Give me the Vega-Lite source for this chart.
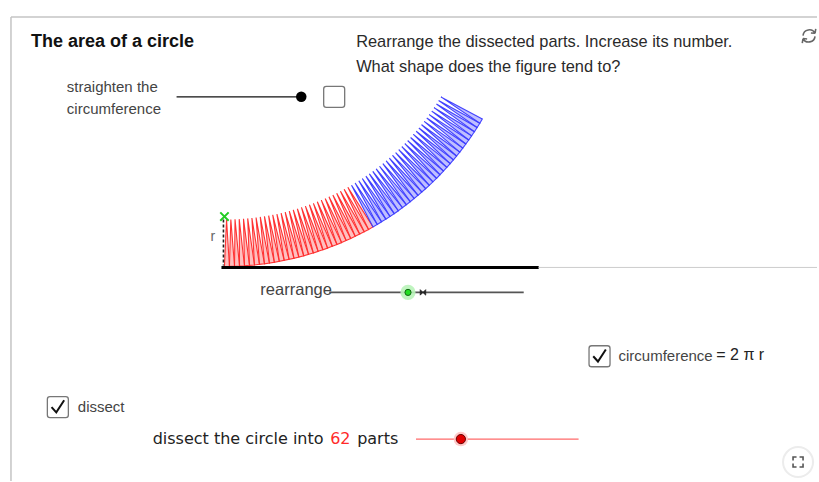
{
  "$schema": "https://vega.github.io/schema/vega-lite/v6.json",
  "width": 819,
  "height": 482,
  "autosize": {"type": "fit", "contains": "padding"},
  "padding": 0,
  "background": "white",
  "config": {"view": {"stroke": null}},
  "datasets": {
    "tri": [
      {"k":0,"o":0,"x":225.0,"y":267.0,"p":"red"},{"k":0,"o":1,"x":227.1,"y":220.0,"p":"red"},{"k":0,"o":2,"x":230.0,"y":266.9,"p":"red"},
      {"k":1,"o":0,"x":230.0,"y":266.9,"p":"red"},{"k":1,"o":1,"x":231.4,"y":219.9,"p":"red"},{"k":1,"o":2,"x":235.1,"y":266.8,"p":"red"},
      {"k":2,"o":0,"x":235.1,"y":266.8,"p":"red"},{"k":2,"o":1,"x":235.6,"y":219.8,"p":"red"},{"k":2,"o":2,"x":240.1,"y":266.6,"p":"red"},
      {"k":3,"o":0,"x":240.1,"y":266.6,"p":"red"},{"k":3,"o":1,"x":239.8,"y":219.6,"p":"red"},{"k":3,"o":2,"x":245.1,"y":266.3,"p":"red"},
      {"k":4,"o":0,"x":245.1,"y":266.3,"p":"red"},{"k":4,"o":1,"x":244.1,"y":219.3,"p":"red"},{"k":4,"o":2,"x":250.1,"y":265.9,"p":"red"},
      {"k":5,"o":0,"x":250.1,"y":265.9,"p":"red"},{"k":5,"o":1,"x":248.3,"y":218.9,"p":"red"},{"k":5,"o":2,"x":255.1,"y":265.5,"p":"red"},
      {"k":6,"o":0,"x":255.1,"y":265.5,"p":"red"},{"k":6,"o":1,"x":252.5,"y":218.5,"p":"red"},{"k":6,"o":2,"x":260.1,"y":264.9,"p":"red"},
      {"k":7,"o":0,"x":260.1,"y":264.9,"p":"red"},{"k":7,"o":1,"x":256.7,"y":218.0,"p":"red"},{"k":7,"o":2,"x":265.1,"y":264.3,"p":"red"},
      {"k":8,"o":0,"x":265.1,"y":264.3,"p":"red"},{"k":8,"o":1,"x":260.9,"y":217.4,"p":"red"},{"k":8,"o":2,"x":270.1,"y":263.6,"p":"red"},
      {"k":9,"o":0,"x":270.1,"y":263.6,"p":"red"},{"k":9,"o":1,"x":265.1,"y":216.8,"p":"red"},{"k":9,"o":2,"x":275.0,"y":262.8,"p":"red"},
      {"k":10,"o":0,"x":275.0,"y":262.8,"p":"red"},{"k":10,"o":1,"x":269.3,"y":216.1,"p":"red"},{"k":10,"o":2,"x":280.0,"y":261.9,"p":"red"},
      {"k":11,"o":0,"x":280.0,"y":261.9,"p":"red"},{"k":11,"o":1,"x":273.4,"y":215.3,"p":"red"},{"k":11,"o":2,"x":284.9,"y":260.9,"p":"red"},
      {"k":12,"o":0,"x":284.9,"y":260.9,"p":"red"},{"k":12,"o":1,"x":277.6,"y":214.5,"p":"red"},{"k":12,"o":2,"x":289.8,"y":259.9,"p":"red"},
      {"k":13,"o":0,"x":289.8,"y":259.9,"p":"red"},{"k":13,"o":1,"x":281.8,"y":213.6,"p":"red"},{"k":13,"o":2,"x":294.7,"y":258.8,"p":"red"},
      {"k":14,"o":0,"x":294.7,"y":258.8,"p":"red"},{"k":14,"o":1,"x":285.9,"y":212.6,"p":"red"},{"k":14,"o":2,"x":299.6,"y":257.6,"p":"red"},
      {"k":15,"o":0,"x":299.6,"y":257.6,"p":"red"},{"k":15,"o":1,"x":290.0,"y":211.5,"p":"red"},{"k":15,"o":2,"x":304.5,"y":256.3,"p":"red"},
      {"k":16,"o":0,"x":304.5,"y":256.3,"p":"red"},{"k":16,"o":1,"x":294.0,"y":210.4,"p":"red"},{"k":16,"o":2,"x":309.3,"y":254.9,"p":"red"},
      {"k":17,"o":0,"x":309.3,"y":254.9,"p":"red"},{"k":17,"o":1,"x":298.1,"y":209.2,"p":"red"},{"k":17,"o":2,"x":314.1,"y":253.5,"p":"red"},
      {"k":18,"o":0,"x":314.1,"y":253.5,"p":"red"},{"k":18,"o":1,"x":302.2,"y":207.9,"p":"red"},{"k":18,"o":2,"x":318.9,"y":251.9,"p":"red"},
      {"k":19,"o":0,"x":318.9,"y":251.9,"p":"red"},{"k":19,"o":1,"x":306.2,"y":206.6,"p":"red"},{"k":19,"o":2,"x":323.7,"y":250.3,"p":"red"},
      {"k":20,"o":0,"x":323.7,"y":250.3,"p":"red"},{"k":20,"o":1,"x":310.2,"y":205.2,"p":"red"},{"k":20,"o":2,"x":328.4,"y":248.6,"p":"red"},
      {"k":21,"o":0,"x":328.4,"y":248.6,"p":"red"},{"k":21,"o":1,"x":314.2,"y":203.8,"p":"red"},{"k":21,"o":2,"x":333.1,"y":246.8,"p":"red"},
      {"k":22,"o":0,"x":333.1,"y":246.8,"p":"red"},{"k":22,"o":1,"x":318.1,"y":202.2,"p":"red"},{"k":22,"o":2,"x":337.8,"y":245.0,"p":"red"},
      {"k":23,"o":0,"x":337.8,"y":245.0,"p":"red"},{"k":23,"o":1,"x":322.1,"y":200.6,"p":"red"},{"k":23,"o":2,"x":342.4,"y":243.1,"p":"red"},
      {"k":24,"o":0,"x":342.4,"y":243.1,"p":"red"},{"k":24,"o":1,"x":326.0,"y":199.0,"p":"red"},{"k":24,"o":2,"x":347.0,"y":241.1,"p":"red"},
      {"k":25,"o":0,"x":347.0,"y":241.1,"p":"red"},{"k":25,"o":1,"x":329.8,"y":197.2,"p":"red"},{"k":25,"o":2,"x":351.6,"y":239.0,"p":"red"},
      {"k":26,"o":0,"x":351.6,"y":239.0,"p":"red"},{"k":26,"o":1,"x":333.7,"y":195.5,"p":"red"},{"k":26,"o":2,"x":356.1,"y":236.8,"p":"red"},
      {"k":27,"o":0,"x":356.1,"y":236.8,"p":"red"},{"k":27,"o":1,"x":337.5,"y":193.6,"p":"red"},{"k":27,"o":2,"x":360.6,"y":234.6,"p":"red"},
      {"k":28,"o":0,"x":360.6,"y":234.6,"p":"red"},{"k":28,"o":1,"x":341.3,"y":191.7,"p":"red"},{"k":28,"o":2,"x":365.1,"y":232.3,"p":"red"},
      {"k":29,"o":0,"x":365.1,"y":232.3,"p":"red"},{"k":29,"o":1,"x":345.0,"y":189.7,"p":"red"},{"k":29,"o":2,"x":369.5,"y":229.9,"p":"red"},
      {"k":30,"o":0,"x":369.5,"y":229.9,"p":"red"},{"k":30,"o":1,"x":348.7,"y":187.7,"p":"red"},{"k":30,"o":2,"x":373.9,"y":227.4,"p":"red"},
      {"k":31,"o":0,"x":373.9,"y":227.4,"p":"blue"},{"k":31,"o":1,"x":352.4,"y":185.6,"p":"blue"},{"k":31,"o":2,"x":378.2,"y":224.9,"p":"blue"},
      {"k":32,"o":0,"x":378.2,"y":224.9,"p":"blue"},{"k":32,"o":1,"x":356.0,"y":183.4,"p":"blue"},{"k":32,"o":2,"x":382.5,"y":222.3,"p":"blue"},
      {"k":33,"o":0,"x":382.5,"y":222.3,"p":"blue"},{"k":33,"o":1,"x":359.7,"y":181.2,"p":"blue"},{"k":33,"o":2,"x":386.8,"y":219.6,"p":"blue"},
      {"k":34,"o":0,"x":386.8,"y":219.6,"p":"blue"},{"k":34,"o":1,"x":363.2,"y":178.9,"p":"blue"},{"k":34,"o":2,"x":391.0,"y":216.9,"p":"blue"},
      {"k":35,"o":0,"x":391.0,"y":216.9,"p":"blue"},{"k":35,"o":1,"x":366.8,"y":176.5,"p":"blue"},{"k":35,"o":2,"x":395.2,"y":214.1,"p":"blue"},
      {"k":36,"o":0,"x":395.2,"y":214.1,"p":"blue"},{"k":36,"o":1,"x":370.3,"y":174.2,"p":"blue"},{"k":36,"o":2,"x":399.3,"y":211.2,"p":"blue"},
      {"k":37,"o":0,"x":399.3,"y":211.2,"p":"blue"},{"k":37,"o":1,"x":373.7,"y":171.7,"p":"blue"},{"k":37,"o":2,"x":403.4,"y":208.2,"p":"blue"},
      {"k":38,"o":0,"x":403.4,"y":208.2,"p":"blue"},{"k":38,"o":1,"x":377.1,"y":169.2,"p":"blue"},{"k":38,"o":2,"x":407.4,"y":205.2,"p":"blue"},
      {"k":39,"o":0,"x":407.4,"y":205.2,"p":"blue"},{"k":39,"o":1,"x":380.5,"y":166.6,"p":"blue"},{"k":39,"o":2,"x":411.3,"y":202.1,"p":"blue"},
      {"k":40,"o":0,"x":411.3,"y":202.1,"p":"blue"},{"k":40,"o":1,"x":383.8,"y":163.9,"p":"blue"},{"k":40,"o":2,"x":415.2,"y":198.9,"p":"blue"},
      {"k":41,"o":0,"x":415.2,"y":198.9,"p":"blue"},{"k":41,"o":1,"x":387.1,"y":161.2,"p":"blue"},{"k":41,"o":2,"x":419.1,"y":195.7,"p":"blue"},
      {"k":42,"o":0,"x":419.1,"y":195.7,"p":"blue"},{"k":42,"o":1,"x":390.3,"y":158.5,"p":"blue"},{"k":42,"o":2,"x":422.9,"y":192.4,"p":"blue"},
      {"k":43,"o":0,"x":422.9,"y":192.4,"p":"blue"},{"k":43,"o":1,"x":393.5,"y":155.7,"p":"blue"},{"k":43,"o":2,"x":426.7,"y":189.1,"p":"blue"},
      {"k":44,"o":0,"x":426.7,"y":189.1,"p":"blue"},{"k":44,"o":1,"x":396.6,"y":152.9,"p":"blue"},{"k":44,"o":2,"x":430.4,"y":185.7,"p":"blue"},
      {"k":45,"o":0,"x":430.4,"y":185.7,"p":"blue"},{"k":45,"o":1,"x":399.7,"y":150.0,"p":"blue"},{"k":45,"o":2,"x":434.0,"y":182.2,"p":"blue"},
      {"k":46,"o":0,"x":434.0,"y":182.2,"p":"blue"},{"k":46,"o":1,"x":402.8,"y":147.0,"p":"blue"},{"k":46,"o":2,"x":437.6,"y":178.7,"p":"blue"},
      {"k":47,"o":0,"x":437.6,"y":178.7,"p":"blue"},{"k":47,"o":1,"x":405.8,"y":144.0,"p":"blue"},{"k":47,"o":2,"x":441.1,"y":175.1,"p":"blue"},
      {"k":48,"o":0,"x":441.1,"y":175.1,"p":"blue"},{"k":48,"o":1,"x":408.7,"y":141.0,"p":"blue"},{"k":48,"o":2,"x":444.6,"y":171.4,"p":"blue"},
      {"k":49,"o":0,"x":444.6,"y":171.4,"p":"blue"},{"k":49,"o":1,"x":411.6,"y":137.8,"p":"blue"},{"k":49,"o":2,"x":447.9,"y":167.7,"p":"blue"},
      {"k":50,"o":0,"x":447.9,"y":167.7,"p":"blue"},{"k":50,"o":1,"x":414.4,"y":134.7,"p":"blue"},{"k":50,"o":2,"x":451.3,"y":164.0,"p":"blue"},
      {"k":51,"o":0,"x":451.3,"y":164.0,"p":"blue"},{"k":51,"o":1,"x":417.2,"y":131.5,"p":"blue"},{"k":51,"o":2,"x":454.5,"y":160.2,"p":"blue"},
      {"k":52,"o":0,"x":454.5,"y":160.2,"p":"blue"},{"k":52,"o":1,"x":419.9,"y":128.3,"p":"blue"},{"k":52,"o":2,"x":457.7,"y":156.3,"p":"blue"},
      {"k":53,"o":0,"x":457.7,"y":156.3,"p":"blue"},{"k":53,"o":1,"x":422.6,"y":125.0,"p":"blue"},{"k":53,"o":2,"x":460.9,"y":152.4,"p":"blue"},
      {"k":54,"o":0,"x":460.9,"y":152.4,"p":"blue"},{"k":54,"o":1,"x":425.2,"y":121.6,"p":"blue"},{"k":54,"o":2,"x":463.9,"y":148.4,"p":"blue"},
      {"k":55,"o":0,"x":463.9,"y":148.4,"p":"blue"},{"k":55,"o":1,"x":427.8,"y":118.3,"p":"blue"},{"k":55,"o":2,"x":467.0,"y":144.3,"p":"blue"},
      {"k":56,"o":0,"x":467.0,"y":144.3,"p":"blue"},{"k":56,"o":1,"x":430.3,"y":114.9,"p":"blue"},{"k":56,"o":2,"x":469.9,"y":140.3,"p":"blue"},
      {"k":57,"o":0,"x":469.9,"y":140.3,"p":"blue"},{"k":57,"o":1,"x":432.8,"y":111.4,"p":"blue"},{"k":57,"o":2,"x":472.8,"y":136.1,"p":"blue"},
      {"k":58,"o":0,"x":472.8,"y":136.1,"p":"blue"},{"k":58,"o":1,"x":435.1,"y":107.9,"p":"blue"},{"k":58,"o":2,"x":475.6,"y":132.0,"p":"blue"},
      {"k":59,"o":0,"x":475.6,"y":132.0,"p":"blue"},{"k":59,"o":1,"x":437.5,"y":104.3,"p":"blue"},{"k":59,"o":2,"x":478.3,"y":127.7,"p":"blue"},
      {"k":60,"o":0,"x":478.3,"y":127.7,"p":"blue"},{"k":60,"o":1,"x":439.7,"y":100.8,"p":"blue"},{"k":60,"o":2,"x":481.0,"y":123.5,"p":"blue"},
      {"k":61,"o":0,"x":481.0,"y":123.5,"p":"blue"},{"k":61,"o":1,"x":442.0,"y":97.1,"p":"blue"},{"k":61,"o":2,"x":483.5,"y":119.2,"p":"blue"}
    ]
  },
  "encoding": {
    "x": {"field": "x", "type": "quantitative", "scale": {"domain": [0, 819], "nice": false, "zero": false}, "axis": null},
    "y": {"field": "y", "type": "quantitative", "scale": {"domain": [0, 482], "nice": false, "zero": false, "reverse": true}, "axis": null}
  },
  "layer": [
    {
      "data": {"values": [{"x": 11, "y": 17, "x2": 819, "y2": 17}, {"x": 11, "y": 17, "x2": 11, "y2": 482}]},
      "mark": {"type": "rule", "stroke": "#c4c4c4", "strokeWidth": 1.5},
      "encoding": {"x2": {"field": "x2"}, "y2": {"field": "y2"}}
    },
    {
      "data": {"name": "tri"},
      "mark": {"type": "line", "interpolate": "linear-closed", "strokeWidth": 1.1, "fillOpacity": 0.45, "strokeOpacity": 0.95},
      "encoding": {
        "detail": {"field": "k", "type": "nominal"},
        "order": {"field": "o", "type": "quantitative"},
        "stroke": {"field": "p", "type": "nominal", "scale": {"domain": ["red", "blue"], "range": ["#ff2a2a", "#3a3aff"]}, "legend": null},
        "fill": {"field": "p", "type": "nominal", "scale": {"domain": ["red", "blue"], "range": ["#ff7070", "#7070ff"]}, "legend": null}
      }
    },
    {
      "data": {"values": [{"x": 222, "y": 268, "x2": 540, "y2": 268}]},
      "mark": {"type": "rule", "stroke": "#000000", "strokeWidth": 3},
      "encoding": {"x2": {"field": "x2"}, "y2": {"field": "y2"}}
    },
    {
      "data": {"values": [{"x": 540, "y": 268, "x2": 819, "y2": 268}]},
      "mark": {"type": "rule", "stroke": "#cccccc", "strokeWidth": 1},
      "encoding": {"x2": {"field": "x2"}, "y2": {"field": "y2"}}
    },
    {
      "data": {"values": [{"x": 224, "y": 220, "x2": 224, "y2": 266}]},
      "mark": {"type": "rule", "stroke": "#222222", "strokeWidth": 1.6, "strokeDash": [3, 2]},
      "encoding": {"x2": {"field": "x2"}, "y2": {"field": "y2"}}
    },
    {
      "data": {"values": [{"x": 177, "y": 97, "x2": 302, "y2": 97}]},
      "mark": {"type": "rule", "stroke": "#111111", "strokeWidth": 1.2},
      "encoding": {"x2": {"field": "x2"}, "y2": {"field": "y2"}}
    },
    {
      "data": {"values": [{"x": 330, "y": 293, "x2": 525, "y2": 293}]},
      "mark": {"type": "rule", "stroke": "#555555", "strokeWidth": 1.6},
      "encoding": {"x2": {"field": "x2"}, "y2": {"field": "y2"}}
    },
    {
      "data": {"values": [{"x": 417, "y": 440, "x2": 580, "y2": 440}]},
      "mark": {"type": "rule", "stroke": "#ff6a6a", "strokeWidth": 1.3},
      "encoding": {"x2": {"field": "x2"}, "y2": {"field": "y2"}}
    },
    {
      "data": {"values": [{"x": 302, "y": 97}]},
      "mark": {"type": "point", "shape": "circle", "filled": true, "color": "#000000", "size": 110, "opacity": 1}
    },
    {
      "data": {"values": [{"x": 409, "y": 293}]},
      "mark": {"type": "point", "shape": "circle", "filled": true, "color": "#b9f3b9", "size": 230, "opacity": 0.9}
    },
    {
      "data": {"values": [{"x": 409, "y": 293}]},
      "mark": {"type": "point", "shape": "circle", "filled": true, "fill": "#22dd22", "stroke": "#116611", "strokeWidth": 1, "size": 38, "opacity": 1}
    },
    {
      "data": {"values": [{"x": 424, "y": 293}]},
      "mark": {"type": "point", "shape": "M-1,-1L0,0L-1,1Z M1,-1L0,0L1,1Z", "filled": true, "fill": "#222222", "stroke": "#222222", "strokeWidth": 0.8, "size": 30, "opacity": 1}
    },
    {
      "data": {"values": [{"x": 462, "y": 440}]},
      "mark": {"type": "point", "shape": "circle", "filled": true, "color": "#ffc4c4", "size": 210, "opacity": 0.9}
    },
    {
      "data": {"values": [{"x": 462, "y": 440}]},
      "mark": {"type": "point", "shape": "circle", "filled": true, "fill": "#e00000", "stroke": "#660000", "strokeWidth": 1, "size": 85, "opacity": 1}
    },
    {
      "data": {"values": [{"x": 225, "y": 217}]},
      "mark": {"type": "point", "shape": "M-1,-1L1,1M1,-1L-1,1", "filled": false, "stroke": "#22cc22", "strokeWidth": 2, "size": 70, "opacity": 1}
    },
    {
      "data": {"values": [{"x": 335, "y": 97}, {"x": 601, "y": 357}, {"x": 58, "y": 408}]},
      "mark": {"type": "point", "shape": "M-0.75,-1H0.75A0.25,0.25 0 0 1 1,-0.75V0.75A0.25,0.25 0 0 1 0.75,1H-0.75A0.25,0.25 0 0 1 -1,0.75V-0.75A0.25,0.25 0 0 1 -0.75,-1Z", "filled": true, "fill": "#ffffff", "stroke": "#777777", "strokeWidth": 1.3, "size": 441, "opacity": 1}
    },
    {
      "data": {"values": [{"x": 601, "y": 357}, {"x": 58, "y": 408}]},
      "mark": {"type": "point", "shape": "M-0.6,0L-0.15,0.5L0.6,-0.65", "filled": false, "stroke": "#111111", "strokeWidth": 2, "size": 441, "opacity": 1}
    },
    {
      "data": {"values": [{"x": 800, "y": 463}]},
      "mark": {"type": "point", "shape": "circle", "filled": true, "fill": "#ffffff", "stroke": "#ececec", "strokeWidth": 2, "size": 900, "opacity": 1}
    },
    {
      "data": {"values": [{"x": 800, "y": 463}]},
      "mark": {"type": "point", "shape": "M-1,-0.3V-1H-0.3 M0.3,-1H1V-0.3 M1,0.3V1H0.3 M-0.3,1H-1V0.3", "filled": false, "stroke": "#555555", "strokeWidth": 1.6, "size": 100, "opacity": 1}
    },
    {
      "data": {"values": [{"x": 811, "y": 36}]},
      "mark": {"type": "point", "shape": "M0.8,-0.35A0.85,0.85 0 0 0 -0.8,-0.05 M-0.8,0.35A0.85,0.85 0 0 0 0.8,0.05 M0.8,-0.35L0.9,-0.95 M0.8,-0.35L0.25,-0.4 M-0.8,0.35L-0.9,0.95 M-0.8,0.35L-0.25,0.4", "filled": false, "stroke": "#666666", "strokeWidth": 1.6, "size": 225, "opacity": 1}
    },
    {
      "data": {"values": [{"x": 31, "y": 42, "t": "The area of a circle"}]},
      "mark": {"type": "text", "align": "left", "baseline": "middle", "font": "Liberation Sans", "fontSize": 18, "fontWeight": "bold", "color": "#111111"},
      "encoding": {"text": {"field": "t"}}
    },
    {
      "data": {"values": [{"x": 357, "y": 42, "t": "Rearrange the dissected parts. Increase its number."}, {"x": 357, "y": 67, "t": "What shape does the figure tend to?"}]},
      "mark": {"type": "text", "align": "left", "baseline": "middle", "font": "Liberation Sans", "fontSize": 16.4, "color": "#2a2a2a"},
      "encoding": {"text": {"field": "t"}}
    },
    {
      "data": {"values": [{"x": 67, "y": 87, "t": "straighten the"}, {"x": 67, "y": 109, "t": "circumference"}, {"x": 78, "y": 408, "t": "dissect"}, {"x": 620, "y": 357, "t": "circumference"}]},
      "mark": {"type": "text", "align": "left", "baseline": "middle", "font": "Liberation Sans", "fontSize": 15, "color": "#444444"},
      "encoding": {"text": {"field": "t"}}
    },
    {
      "data": {"values": [{"x": 261, "y": 291, "t": "rearrange"}]},
      "mark": {"type": "text", "align": "left", "baseline": "middle", "font": "Liberation Sans", "fontSize": 16.5, "color": "#444444"},
      "encoding": {"text": {"field": "t"}}
    },
    {
      "data": {"values": [{"x": 718, "y": 356, "t": "= 2 π r"}]},
      "mark": {"type": "text", "align": "left", "baseline": "middle", "font": "Liberation Sans", "fontSize": 16, "color": "#222222"},
      "encoding": {"text": {"field": "t"}}
    },
    {
      "data": {"values": [{"x": 211, "y": 237, "t": "r"}]},
      "mark": {"type": "text", "align": "left", "baseline": "middle", "font": "Liberation Sans", "fontSize": 14, "color": "#666666"},
      "encoding": {"text": {"field": "t"}}
    },
    {
      "data": {"values": [{"x": 153, "y": 440, "t": "dissect the circle into"}, {"x": 358, "y": 440, "t": "parts"}]},
      "mark": {"type": "text", "align": "left", "baseline": "middle", "font": "DejaVu Sans", "fontSize": 16, "color": "#222222"},
      "encoding": {"text": {"field": "t"}}
    },
    {
      "data": {"values": [{"x": 331, "y": 440, "t": "62"}]},
      "mark": {"type": "text", "align": "left", "baseline": "middle", "font": "DejaVu Sans", "fontSize": 16, "color": "#ff2a2a"},
      "encoding": {"text": {"field": "t"}}
    }
  ]
}
